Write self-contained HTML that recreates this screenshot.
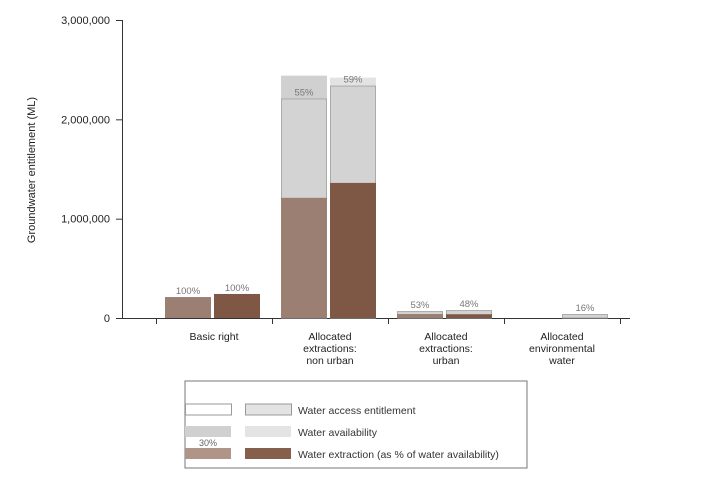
<!DOCTYPE html>
<html><head><meta charset="utf-8"><style>
body{margin:0;background:#fff;font-family:"Liberation Sans",Arial,sans-serif;}
svg text{font-family:"Liberation Sans",Arial,sans-serif;}
</style></head><body>
<svg id="chart" width="701" height="477">
<g id="axes"></g><g id="bars"></g>
<text transform="translate(35,170) rotate(-90)" text-anchor="middle" font-size="11" fill="#222">Groundwater entitlement (ML)</text>
<g>
<rect x="185" y="381" width="342" height="87" fill="#fff" stroke="#777" stroke-width="1"/>
<text x="208" y="413" font-size="10.5" fill="#333" text-anchor="middle">2013</text>
<text x="268" y="413" font-size="10.5" fill="#333" text-anchor="middle">2014</text>
<rect x="185.5" y="404" width="46" height="11" fill="#fff" stroke="#999"/>
<rect x="245.5" y="404" width="46" height="11" fill="#e3e3e3" stroke="#999"/>
<text x="298" y="414" font-size="10.5" fill="#333">Water access entitlement</text>
<rect x="185" y="426" width="46" height="11" fill="#d0d0d0"/>
<rect x="245" y="426" width="46" height="11" fill="#e4e4e4"/>
<text x="298" y="436" font-size="10.5" fill="#333">Water availability</text>
<text x="208" y="446" font-size="9" fill="#666" text-anchor="middle">30%</text>
<rect x="185" y="448" width="46" height="11" fill="#b09488"/>
<rect x="245" y="448" width="46" height="11" fill="#865e4c"/>
<text x="298" y="458" font-size="10.5" fill="#333">Water extraction (as % of water availability)</text>
</g>
</svg>
<script>
const categories=[["Basic right"],["Allocated","extractions:","non urban"],["Allocated","extractions:","urban"],["Allocated","environmental","water"]];
const entitlement2013=[0,2210000,70000,0];
const availability2013=[0,2440000,60000,0];
const extraction2013=[211000,1210000,40000,0];
const label2013=["100%","55%","53%",""];
const entitlement2014=[0,2340000,80000,40000];
const availability2014=[0,2420000,70000,40000];
const extraction2014=[242000,1360000,38000,0];
const label2014=["100%","59%","48%","16%"];
const yTicks=[0,1000000,2000000,3000000];
const yTickLabels=["0","1,000,000","2,000,000","3,000,000"];
const NS="http://www.w3.org/2000/svg";
const y0=318,yTop=20,yMax=3000000,x0=156,cw=116;
const y=v=>y0-(v/yMax)*(y0-yTop);
const ax=document.getElementById('axes'),bg=document.getElementById('bars');
function mk(tag,attrs,parent){const e=document.createElementNS(NS,tag);for(const k in attrs)e.setAttribute(k,attrs[k]);parent.appendChild(e);return e;}
let l=mk('line',{x1:122.5,x2:122.5,y1:yTop,y2:y0,stroke:'#333'},ax);


l=mk('line',{x1:122,x2:630,y1:y0+0.5,y2:y0+0.5,stroke:'#333'},ax);


yTicks.forEach((v,i)=>{
 const t=mk('line',{x1:116,x2:122,y1:y(v)+0.5,y2:y(v)+0.5,stroke:'#333'},ax);
 
 
 const tx=mk('text',{x:110,y:y(v)+4,'text-anchor':'end','font-size':'11',fill:'#222'},ax);
 tx.textContent=yTickLabels[i];
 
 
});
for(let i=0;i<=categories.length;i++){
 const t=mk('line',{x1:x0+i*cw+0.5,x2:x0+i*cw+0.5,y1:y0,y2:y0+6,stroke:'#333'},ax);
 
 
}
categories.forEach((c,i)=>{
 const tx=mk('text',{x:x0+i*cw+cw/2,y:340,'text-anchor':'middle','font-size':'10.5',fill:'#222'},ax);
 
 
 c.forEach((s,j)=>{const ts=mk('tspan',{x:x0+i*cw+cw/2,dy:j?12:0},tx);ts.textContent=s;});
});
function bar(i,off,ent,av,ex,lab,avCol,entCol,exCol,yr){
 const x=x0+i*cw+off,w=46;
 if(av>0){const r=mk('rect',{x:x,y:y(av),width:w,height:y0-y(av),fill:avCol},bg);
  
  }
 if(ent>0){const r=mk('rect',{x:x+0.5,y:y(ent)+0.5,width:w-1,height:y0-y(ent)-0.5,fill:entCol,stroke:'#aaa'},bg);
  
  }
 if(ex>0){const r=mk('rect',{x:x,y:y(ex),width:w,height:y0-y(ex),fill:exCol},bg);
  
  }
 if(lab){const top=Math.min(y(ent),y(ex));
  const t=mk('text',{x:x+w/2,y:top-3,'text-anchor':'middle','font-size':'9.5',fill:'#777'},bg);
  t.textContent=lab;
  
  }
}
categories.forEach((c,i)=>{
 bar(i,9,entitlement2013[i],availability2013[i],extraction2013[i],label2013[i],'#d0d0d0','#d3d3d3','#9b7f72','2013');
 bar(i,58,entitlement2014[i],availability2014[i],extraction2014[i],label2014[i],'#e3e3e3','#d3d3d3','#7f5745','2014');
});
</script>
</body></html>
